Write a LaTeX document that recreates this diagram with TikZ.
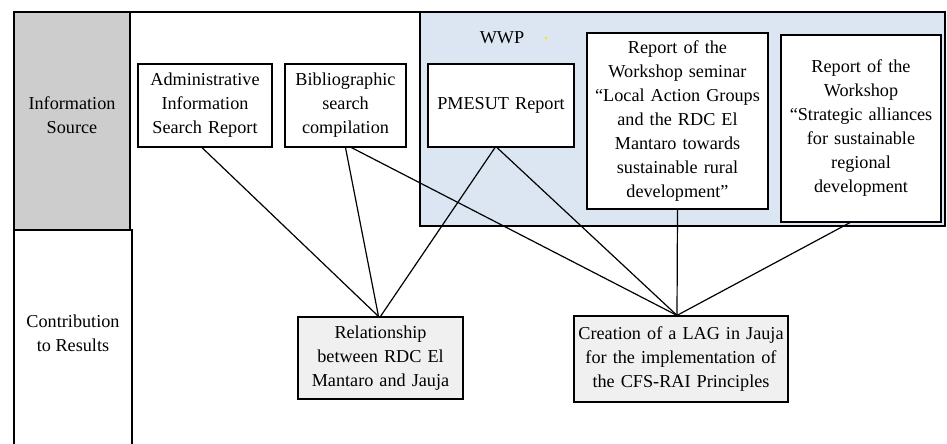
\documentclass[tikz,border=0pt]{standalone}
\usepackage{fontspec}
\setmainfont{Liberation Serif}
\usepackage{color}
\usepackage{xcolor}
\usepackage{tikz}
\definecolor{srcgray}{RGB}{205,205,205}
\definecolor{wwpblue}{RGB}{220,230,242}
\definecolor{resgray}{RGB}{240,240,240}
\tikzset{
	txt/.style={align=center, font=\fontsize{9.1}{12}\selectfont},
	srcbox/.style={txt, draw, fill=white, inner sep=2pt},
	resbox/.style={srcbox, fill=resgray},
	link/.style={draw, line width=0.6pt}
}
\begin{document}
\begin{tikzpicture}[x=0.5pt,y=-0.5pt,line width=0.6pt]
	\useasboundingbox (0,0) rectangle (947,444);
	\draw[fill=wwpblue] (420,12) rectangle (945,226);
	\draw (130,12) -- (945,12);
	\draw[fill=srcgray] (14,12) rectangle (130,230);
	\draw (14,444) -- (14,230) -- (132,230) -- (132,444);
	\node[txt] (source) at (72,115) {Information\\Source};
	\node[txt] (contrib) at (73,333) {Contribution\\to Results};
	\node[txt] (wwp) at (502,38) {WWP};
	\fill[yellow!90!orange] (546,38) circle (1.5);

	\node[srcbox, text width=63pt, minimum height=41.5pt] (admin) at (205,105.5) {Administrative\\Information\\Search Report};
	\node[srcbox, text width=56.5pt, minimum height=41.5pt] (biblio) at (345.5,105.5) {Bibliographic\\search\\compilation};
	\node[srcbox, text width=69pt, minimum height=41.5pt] (pmesut) at (501,105.5) {PMESUT Report};
	\node[srcbox, text width=86.5pt, minimum height=88pt] (seminar) at (677.5,121) {Report of the\\Workshop seminar\\``Local Action Groups\\and the RDC El\\Mantaro towards\\sustainable rural\\development''};
	\node[srcbox, text width=76pt, minimum height=93.5pt] (alliance) at (861,128.5) {Report of the\\Workshop\\``Strategic alliances\\for sustainable\\regional\\development};

	\node[resbox, text width=78.5pt, minimum height=41pt] (relation) at (380.5,358) {Relationship\\between RDC El\\Mantaro and Jauja};
	\node[resbox, inner sep=1pt, text width=105pt, minimum height=43pt] (lag) at (681,359) {Creation of a LAG in Jauja\\for the implementation of\\the CFS-RAI Principles};

	\path[link] ([xshift=-1.5]admin.south) -- ([xshift=-1]relation.north);
	\path[link] (biblio.south) -- ([xshift=-1]relation.north);
	\path[link] ([xshift=3]biblio.south) -- ([xshift=-2]lag.north);
	\path[link] ([xshift=-3]pmesut.south) -- (relation.north);
	\path[link] ([xshift=-2]pmesut.south) -- ([xshift=-2]lag.north);
	\path[link] (seminar.south) -- ([xshift=-2]lag.north);
	\path[link] ([xshift=-5.5]alliance.south) -- ([xshift=-2]lag.north);
\end{tikzpicture}
\end{document}
